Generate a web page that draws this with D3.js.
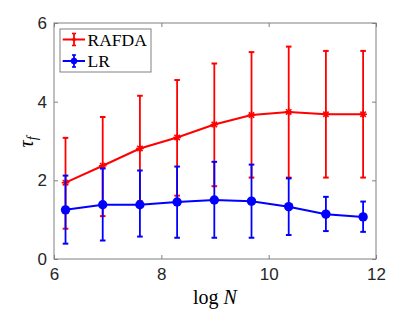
<!DOCTYPE html>
<html>
<head>
<meta charset="utf-8">
<script src="https://cdn.jsdelivr.net/npm/d3@7"></script>
<style>
  body { margin: 0; background: #fff; }
  .tick text { font-family: "Liberation Sans", Arial, sans-serif; font-size: 17px; fill: #262626; }
  .axis path, .axis line { stroke: #808080; }
  .lbl { font-family: "Liberation Serif", "Times New Roman", serif; fill: #000; }
</style>
</head>
<body>
<div id="chart"></div>
<script>
// log N values (ln of 500 ... 128000)
const logN = [6.2146, 6.9078, 7.6009, 8.2940, 8.9872, 9.6803, 10.3735, 11.0666, 11.7597];

const rafdaMean  = [1.94, 2.37, 2.81, 3.09, 3.42, 3.66, 3.74, 3.68, 3.68];
const rafdaLower = [0.77, 1.09, 1.47, 1.61, 1.85, 2.07, 2.07, 2.07, 2.07];
const rafdaUpper = [3.08, 3.61, 4.15, 4.55, 4.97, 5.26, 5.40, 5.29, 5.29];

const lrMean  = [1.25, 1.38, 1.38, 1.45, 1.50, 1.47, 1.33, 1.14, 1.07];
const lrLower = [0.39, 0.47, 0.57, 0.54, 0.54, 0.54, 0.61, 0.71, 0.69];
const lrUpper = [2.12, 2.30, 2.25, 2.35, 2.47, 2.40, 2.05, 1.58, 1.46];

const xTicks = [6, 8, 10, 12];
const yTicks = [0, 2, 4, 6];

const W = 415, H = 312;
const margin = { left: 54, right: 39, top: 23, bottom: 53 };
const width = W - margin.left - margin.right;
const height = H - margin.top - margin.bottom;

const xScale = d3.scaleLinear().domain([6, 12]).range([0, width]);
const yScale = d3.scaleLinear().domain([0, 6]).range([height, 0]);

const svg = d3.select("#chart").append("svg")
  .attr("width", W).attr("height", H);

const chart = svg.append("g")
  .attr("transform", `translate(${margin.left},${margin.top})`);

// axes, ticks pointing inward, box on
chart.append("g").attr("class", "axis")
  .attr("transform", `translate(0,${height})`)
  .call(d3.axisBottom(xScale).tickValues(xTicks).tickSize(-4).tickPadding(9).tickFormat(d3.format("d")));
chart.append("g").attr("class", "axis")
  .call(d3.axisLeft(yScale).tickValues(yTicks).tickSize(-4).tickPadding(7).tickFormat(d3.format("d")));
chart.append("g").attr("class", "axis")
  .call(d3.axisTop(xScale).tickValues(xTicks).tickSize(-4).tickFormat(""));
chart.append("g").attr("class", "axis")
  .attr("transform", `translate(${width},0)`)
  .call(d3.axisRight(yScale).tickValues(yTicks).tickSize(-4).tickFormat(""));
chart.selectAll(".axis path").attr("stroke", "#808080");
chart.selectAll(".axis .domain").attr("d", null);
chart.append("rect").attr("width", width).attr("height", height)
  .attr("fill", "none").attr("stroke", "#808080").attr("stroke-width", 1);

const series = [
  { name: "RAFDA", color: "#ff0000", mean: rafdaMean, lo: rafdaLower, hi: rafdaUpper, marker: "star" },
  { name: "LR", color: "#0000ff", mean: lrMean, lo: lrLower, hi: lrUpper, marker: "circle" }
];

const line = d3.line().x(d => xScale(d[0])).y(d => yScale(d[1]));
const cap = 2.8;

function drawStar(g, x, y, r, color) {
  [[1, 0], [0, 1], [0.707, 0.707], [0.707, -0.707]].forEach(([dx, dy]) => {
    g.append("line")
      .attr("x1", x - dx * r).attr("y1", y - dy * r)
      .attr("x2", x + dx * r).attr("y2", y + dy * r)
      .attr("stroke", color).attr("stroke-width", 1.6);
  });
}

series.forEach(s => {
  const g = chart.append("g");
  logN.forEach((x, i) => {
    const px = xScale(x);
    g.append("line").attr("x1", px).attr("x2", px)
      .attr("y1", yScale(s.lo[i])).attr("y2", yScale(s.hi[i]))
      .attr("stroke", s.color).attr("stroke-width", 1.8);
    [s.lo[i], s.hi[i]].forEach(v => {
      g.append("line").attr("x1", px - cap).attr("x2", px + cap)
        .attr("y1", yScale(v)).attr("y2", yScale(v))
        .attr("stroke", s.color).attr("stroke-width", 2);
    });
  });
  g.append("path").datum(logN.map((x, i) => [x, s.mean[i]]))
    .attr("d", line).attr("fill", "none")
    .attr("stroke", s.color).attr("stroke-width", 2);
  logN.forEach((x, i) => {
    if (s.marker === "circle") {
      g.append("circle").attr("cx", xScale(x)).attr("cy", yScale(s.mean[i]))
        .attr("r", 4.7).attr("fill", s.color);
    } else {
      drawStar(g, xScale(x), yScale(s.mean[i]), 3.8, s.color);
    }
  });
});

// legend
const leg = svg.append("g").attr("transform", "translate(60,29)");
leg.append("rect").attr("width", 91).attr("height", 43)
  .attr("fill", "#fff").attr("stroke", "#808080").attr("stroke-width", 1);
series.forEach((s, i) => {
  const y = 10.5 + i * 21.5;
  leg.append("line").attr("x1", 2.7).attr("x2", 25).attr("y1", y).attr("y2", y)
    .attr("stroke", s.color).attr("stroke-width", 2);
  leg.append("line").attr("x1", 14).attr("x2", 14).attr("y1", y - 6).attr("y2", y + 6)
    .attr("stroke", s.color).attr("stroke-width", 1.8);
  [y - 6, y + 6].forEach(cy => leg.append("line").attr("x1", 12).attr("x2", 16)
    .attr("y1", cy).attr("y2", cy).attr("stroke", s.color).attr("stroke-width", 1.6));
  leg.append("circle").attr("cx", 14).attr("cy", y).attr("r", s.marker === "circle" ? 3.2 : 1.8)
    .attr("fill", s.color);
  leg.append("text").attr("class", "lbl").attr("x", 27.5).attr("y", y + 6)
    .style("font-size", "17.5px").text(s.name);
});

// axis labels
const xl = svg.append("text").attr("class", "lbl")
  .attr("x", margin.left + width / 2).attr("y", 304)
  .attr("text-anchor", "middle").style("font-size", "20px");
xl.append("tspan").text("log ");
xl.append("tspan").style("font-style", "italic").text("N");

const yl = svg.append("text").attr("class", "lbl")
  .attr("transform", "translate(33,142) rotate(-90)")
  .attr("text-anchor", "middle").style("font-size", "20px");
yl.append("tspan").style("font-style", "italic").text("τ");
yl.append("tspan").style("font-style", "italic").style("font-size", "14px").attr("dy", 4).text("f");
</script>
</body>
</html>
